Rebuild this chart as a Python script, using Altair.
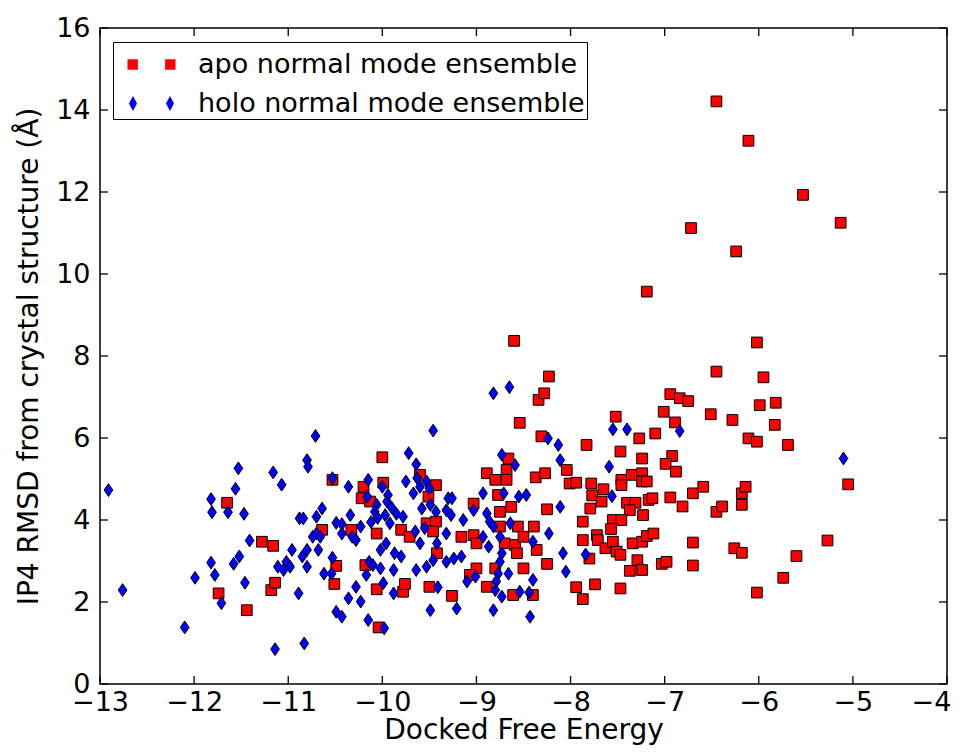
import altair as alt
import pandas as pd

names = ["apo normal mode ensemble", "holo normal mode ensemble"]

apo_x = [-11.65, -11.74, -11.44, -11.28, -11.16, -11.18, -11.14, -10.53, -10.64, -10.49, -10.51, -10.33,
         -10.20, -10.22, -10.13, -10.18, -10.06, -10.06, -10.04, -10.00, -9.99, -9.80, -9.78, -9.76, -9.71,
         -9.60, -9.43, -9.51, -9.53, -9.43, -9.46, -9.50, -9.26, -9.42, -9.16, -9.03, -9.03, -9.00, -9.00,
         -9.07, -8.89, -8.80, -8.68, -8.66, -8.68, -8.77, -8.75, -8.63, -8.75, -8.70, -8.59, -8.57, -8.56,
         -8.50, -8.39, -8.36, -8.25, -8.50, -8.80, -8.89, -8.61, -8.40, -8.54, -8.34, -8.28, -8.23, -8.31,
         -8.37, -8.27, -8.25, -8.04, -8.01, -8.60,
         -6.02, -6.45, -5.95, -6.94, -6.84, -6.75, -7.01, -6.89, -6.51, -6.28, -5.99, -5.82, -5.83, -6.11,
         -6.02, -5.69, -7.52, -7.83, -7.27, -7.10, -7.47, -7.24, -6.92, -6.99, -6.88, -7.94, -7.78, -7.65,
         -7.46, -7.35, -7.24, -7.24, -7.19, -7.77, -7.67, -7.79, -7.46, -7.40, -7.31, -7.37, -7.17, -7.13,
         -7.23, -6.94, -6.81, -6.70, -6.59, -6.45, -6.39, -6.18, -6.14, -6.18, -7.87, -7.55, -7.46, -7.57,
         -7.87, -7.72, -7.71, -7.63, -7.55, -7.51, -7.47, -7.34, -7.24, -7.19, -7.12, -7.29, -7.37, -7.24,
         -7.03, -6.98, -6.70, -6.70, -6.26, -6.18, -5.60, -5.74, -6.02, -7.94, -7.87, -7.74, -7.47, -7.80,
         -6.45, -6.11, -5.53, -6.72, -5.13, -6.24, -7.19, -5.05, -5.27]
apo_y = [4.42, 2.21, 1.80, 3.47, 3.37, 2.29, 2.47, 4.98, 3.76, 2.88, 2.44, 3.76,
         4.81, 4.53, 4.45, 2.90, 3.67, 2.31, 1.38, 5.53, 4.91, 3.76, 2.25, 2.44, 3.59,
         5.10, 4.85, 4.57, 3.92, 3.96, 3.72, 2.37, 2.15, 3.19, 3.59, 4.40, 3.63, 3.43, 2.82,
         2.66, 5.14, 4.98, 5.22, 5.50, 4.98, 4.61, 4.20, 4.32, 3.84, 3.43, 3.39, 3.19, 3.84,
         3.59, 3.84, 3.27, 2.93, 2.82, 2.82, 2.37, 2.17, 2.17, 6.37, 6.93, 7.09, 7.50, 6.04,
         5.04, 5.14, 4.26, 5.22, 4.89, 8.37,
         8.33, 7.62, 7.48, 7.07, 6.97, 6.90, 6.64, 6.38, 6.58, 6.44, 6.80, 6.86, 6.32, 5.99,
         5.91, 5.83, 6.52, 5.83, 5.99, 6.11, 5.67, 5.50, 5.56, 5.37, 5.18, 4.91, 4.89, 4.75,
         4.98, 5.10, 5.14, 4.94, 4.94, 4.60, 4.45, 4.28, 4.85, 4.42, 4.42, 4.24, 4.49, 4.53,
         4.12, 4.55, 4.33, 4.65, 4.81, 4.20, 4.33, 4.65, 4.81, 4.37, 3.96, 4.00, 4.00, 3.78,
         3.51, 3.63, 3.51, 3.31, 3.47, 3.23, 3.15, 3.43, 3.47, 3.61, 3.67, 3.02, 2.76, 2.78,
         2.93, 2.98, 3.45, 2.89, 3.31, 3.20, 3.12, 2.59, 2.23, 2.36, 2.07, 2.43, 2.33, 3.06,
         14.21, 13.25, 11.93, 11.12, 11.25, 10.55, 9.57, 4.87, 3.50]

holo_x = [-12.91, -12.76, -12.10, -11.99, -11.82, -11.81, -11.82, -11.78, -11.71, -11.64, -11.56, -11.53,
          -11.47, -11.58, -11.52, -11.46, -11.41, -11.16, -11.07, -11.14, -11.11, -11.05, -11.02, -10.98,
          -10.96, -10.89, -10.88, -10.84, -10.85, -10.80, -10.80, -10.83, -10.80, -10.79, -10.71, -10.74,
          -10.70, -10.68, -10.64, -10.70, -10.66, -10.62, -10.54, -10.53, -10.49, -10.43, -10.53, -10.49,
          -10.43, -10.43, -10.36, -10.34, -10.32, -10.28, -10.28, -10.36, -10.23, -10.23, -10.17, -10.15,
          -10.14, -10.15, -10.16, -10.10, -10.06, -10.02, -9.99, -9.98, -10.00, -9.97, -9.94, -9.92,
          -9.88, -9.88, -9.87, -9.80, -9.78, -9.75, -9.72, -10.02, -9.96,
          -10.08, -10.05, -9.95, -9.90, -10.12, -9.85,
          -9.64, -9.46, -9.63, -9.53, -9.50, -9.60, -9.67, -9.58, -9.49, -9.43, -9.30, -9.26, -9.32,
          -9.27, -9.65, -9.55, -9.60, -9.42, -9.32, -9.14, -9.03, -8.93, -8.89, -8.86, -8.82, -8.75,
          -8.71, -8.73, -8.59, -8.82, -8.65, -8.24, -8.13, -8.11, -8.55, -8.47, -8.11, -8.08, -8.05,
          -8.64, -8.93, -8.87, -8.73, -8.75, -8.77, -8.66, -8.79, -8.80, -8.73, -8.54, -8.44, -8.40,
          -8.40, -8.23, -8.43, -8.82, -9.21, -9.49, -9.41, -9.10, -9.01, -9.32, -9.24, -9.16, -9.46,
          -9.53, -9.64,
          -7.55, -7.40, -6.84, -7.59, -7.56, -7.84, -5.10]
holo_y = [4.73, 2.29, 1.38, 2.59, 4.51, 4.19, 2.96, 2.66, 1.97, 4.19, 4.76, 5.26,
          4.15, 2.93, 3.11, 2.47, 3.50, 5.16, 4.86, 0.85, 2.86, 2.78, 2.98, 2.86,
          3.27, 2.21, 4.04, 4.04, 3.11, 3.27, 2.86, 0.99, 5.46, 5.30, 6.05, 3.59,
          3.67, 3.27, 4.28, 4.08, 3.59, 2.69, 2.69, 3.08, 1.76, 1.64, 5.02, 3.93,
          3.90, 3.67, 4.81, 4.12, 3.59, 3.51, 2.37, 2.09, 2.01, 3.84, 2.66, 1.56,
          2.98, 4.98, 4.57, 2.90, 4.37, 2.82, 2.46, 1.36, 4.81, 4.12, 4.61, 3.92,
          2.21, 2.78, 3.19, 3.11, 4.08, 4.94, 5.63, 3.27, 3.43,
          4.20, 4.05, 4.45, 4.30, 3.95, 4.15,
          5.36, 6.18, 5.02, 4.94, 4.77, 4.81, 4.65, 4.28, 4.37, 4.20, 4.53, 4.53, 4.24,
          4.12, 3.72, 3.80, 3.43, 3.43, 3.67, 4.00, 4.24, 4.65, 4.16, 3.96, 3.84, 3.59,
          4.65, 5.59, 5.34, 7.09, 7.24, 5.99, 5.83, 5.46, 4.57, 4.61, 4.32, 3.19, 2.74,
          3.92, 3.59, 3.35, 3.19, 2.98, 2.69, 2.69, 2.50, 2.29, 2.13, 2.25, 2.23, 2.54,
          3.47, 3.67, 1.64, 1.80, 1.84, 1.80, 2.36, 2.50, 2.62, 2.98, 3.06, 3.11, 3.02,
          2.86, 2.78,
          6.21, 6.21, 6.17, 5.30, 4.58, 3.16, 5.50]

x_ticks = [-13, -12, -11, -10, -9, -8, -7, -6, -5, -4]
y_ticks = [0, 2, 4, 6, 8, 10, 12, 14, 16]

W, H = 847, 656
TICK = 8

df = pd.concat([
    pd.DataFrame({"energy": apo_x, "rmsd": apo_y, "ensemble": names[0]}),
    pd.DataFrame({"energy": holo_x, "rmsd": holo_y, "ensemble": names[1]}),
], ignore_index=True)

xscale = alt.Scale(domain=[-13, -4], nice=False, zero=False)
yscale = alt.Scale(domain=[0, 16], nice=False, zero=False)
font = "DejaVu Sans"
colors = ["#ff0000", "#0000ff"]
diamond = "M-0.68,0L0,-1L0.68,0L0,1Z"

# legend symbols: two markers per entry, as in the original legend
pair_square = "M-1.2,-0.26H-0.68V0.26H-1.2Z M0.68,-0.26H1.2V0.26H0.68Z"
pair_diamond = "M-1.125,0L-0.925,-0.37L-0.725,0L-0.925,0.37Z M0.725,0L0.925,-0.37L1.125,0L0.925,0.37Z"

x_enc = alt.X("energy:Q", scale=xscale,
              axis=alt.Axis(values=x_ticks, ticks=False, domain=False, grid=False,
                            labelFontSize=27, labelPadding=5, labelFlush=False, labelOverlap=False,
                            labelOffset={"condition": {"test": "datum.value == -4", "value": -16}, "value": 0},
                            title="Docked Free Energy", titleFontSize=28, titlePadding=1,
                            titleFontWeight="normal"))
y_enc = alt.Y("rmsd:Q", scale=yscale,
              axis=alt.Axis(values=y_ticks, ticks=False, domain=False, grid=False,
                            labelFontSize=27, labelPadding=10, labelFlush=False, labelOverlap=False,
                            title="IP4 RMSD from crystal structure (Å)", titleFontSize=28,
                            titlePadding=12, titleFontWeight="normal"))

points = alt.Chart(df).mark_point(filled=True, stroke="black", strokeWidth=1, opacity=1).encode(
    x=x_enc,
    y=y_enc,
    color=alt.Color("ensemble:N", scale=alt.Scale(domain=names, range=colors), legend=None),
    shape=alt.Shape("ensemble:N", scale=alt.Scale(domain=names, range=["square", diamond]), legend=None),
    size=alt.Size("ensemble:N", scale=alt.Scale(domain=names, range=[115, 165]), legend=None),
)

leg = alt.Legend(title=None, orient="none", legendX=13, legendY=14, padding=2,
                 strokeColor="black", fillColor="white", cornerRadius=0,
                 labelFontSize=27, labelFont=font, labelColor="black", labelLimit=0,
                 labelExpr="datum.label + '\u00a0'",
                 symbolSize=1600, symbolStrokeColor="black", symbolStrokeWidth=1,
                 symbolOpacity=1, rowPadding=5, symbolOffset=16, labelOffset=26)

# invisible layer that only carries the legend (no marks drawn)
legend_layer = alt.Chart(df).transform_filter("false").mark_point(filled=True).encode(
    x=alt.X("energy:Q", scale=xscale, axis=None),
    y=alt.Y("rmsd:Q", scale=yscale, axis=None),
    color=alt.Color("ensemble:N", scale=alt.Scale(domain=names, range=colors), legend=leg),
    shape=alt.Shape("ensemble:N", scale=alt.Scale(domain=names, range=[pair_square, pair_diamond]), legend=leg),
)

xt = pd.DataFrame({"energy": x_ticks})
yt = pd.DataFrame({"rmsd": y_ticks})
rule = dict(color="black", strokeWidth=1.3)

bottom = alt.Chart(xt).mark_rule(**rule).encode(
    x=alt.X("energy:Q", scale=xscale, axis=None), y=alt.value(H), y2=alt.value(H - TICK))
top = alt.Chart(xt).mark_rule(**rule).encode(
    x=alt.X("energy:Q", scale=xscale, axis=None), y=alt.value(0), y2=alt.value(TICK))
left = alt.Chart(yt).mark_rule(**rule).encode(
    y=alt.Y("rmsd:Q", scale=yscale, axis=None), x=alt.value(0), x2=alt.value(TICK))
right = alt.Chart(yt).mark_rule(**rule).encode(
    y=alt.Y("rmsd:Q", scale=yscale, axis=None), x=alt.value(W), x2=alt.value(W - TICK))

chart = alt.layer(points, legend_layer, bottom, top, left, right).resolve_axis(
    x="independent", y="independent"
).resolve_scale(
    color="independent", shape="independent"
).properties(
    width=W, height=H,
    autosize=alt.AutoSizeParams(type="none"),
    padding={"left": 92, "top": 20, "right": 6, "bottom": 62},
).configure_view(stroke="black", strokeWidth=1.5).configure_axis(
    labelFont=font, titleFont=font, labelColor="black", titleColor="black"
)

chart.save("out.html", embed_options={"renderer": "svg", "actions": False})
